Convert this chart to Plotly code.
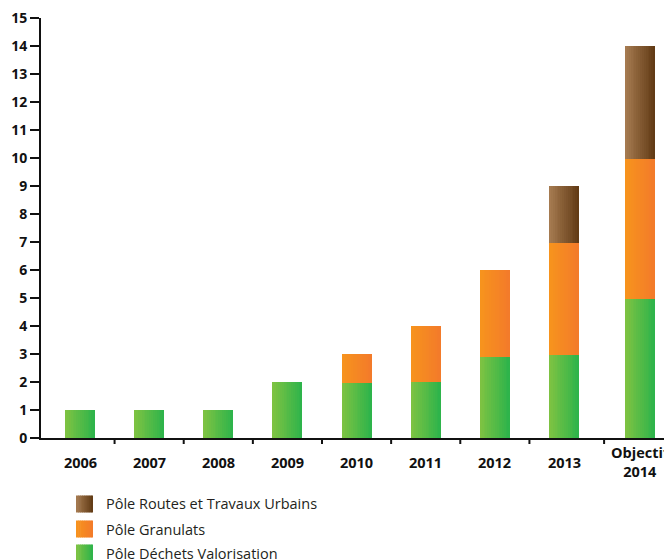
import plotly.graph_objects as go

# ---- data ----
categories = ["2006", "2007", "2008", "2009", "2010", "2011", "2012", "2013", "Objectif<br>2014"]
dechets = [1, 1, 1, 2, 1.95, 2, 2.9, 2.95, 4.95]
granulats = [0, 0, 0, 0, 1.05, 2, 3.1, 4, 5]
routes = [0, 0, 0, 0, 0, 0, 0, 2.05, 4.05]
series_names = ["Pôle Déchets Valorisation", "Pôle Granulats", "Pôle Routes et Travaux Urbains"]
y_ticks = list(range(0, 16))

# ---- styling ----
colors_left = ["#80c342", "#f7941d", "#a77c52"]
colors_right = ["#2bb34b", "#f37a2a", "#603913"]
BAR_W = 0.434
N_STRIPS = 16
FONT = "Open Sans"
# horizontal slot shift (in category units) – the last column sits a bit further right
slot_shift = [0, 0, 0, 0, 0, 0, 0, 0, 0.1]


def hex2rgb(h):
    h = h.lstrip("#")
    return tuple(int(h[i:i + 2], 16) for i in (0, 2, 4))


def mix(c1, c2, t):
    a, b = hex2rgb(c1), hex2rgb(c2)
    return "rgb(%d,%d,%d)" % tuple(round(a[i] + (b[i] - a[i]) * t) for i in range(3))


series_vals = [dechets, granulats, routes]
bases = []
acc = [0] * len(categories)
for vals in series_vals:
    bases.append(list(acc))
    acc = [a + v for a, v in zip(acc, vals)]

fig = go.Figure()
for s, vals in enumerate(series_vals):
    yv = [v if v > 0 else None for v in vals]
    for k in range(N_STRIPS):
        t = (k + 0.5) / N_STRIPS
        sw = BAR_W / N_STRIPS
        width = sw * (2 if k < N_STRIPS - 1 else 1)
        fig.add_trace(go.Bar(
            x=categories, y=yv, base=bases[s],
            width=[width] * len(categories),
            offset=[-BAR_W / 2 + k * sw + sh for sh in slot_shift],
            marker=dict(color=mix(colors_left[s], colors_right[s], t), line=dict(width=0)),
            showlegend=False, name=series_names[s], hoverinfo="skip",
        ))

# plot area geometry (pixels) for paper conversions
L, T, B = 41, 18, 122
W, H = 664, 560
PW, PH = W - L, H - T - B


def px2paper_x(px):
    return (px - L) / PW


def px2paper_y(py):
    return (H - B - py) / PH


annotations = []
for i, c in enumerate(categories):
    annotations.append(dict(
        x=i + slot_shift[i], xref="x", y=0, yref="y", yshift=-24, yanchor="middle", xanchor="center",
        text=c, showarrow=False, font=dict(family=FONT, size=14.5, color="#111", weight="bold"),
    ))

shapes = []
# boundary tick marks below the x axis
for i in range(len(categories) - 1):
    xb = (i + slot_shift[i] + i + 1 + slot_shift[i + 1]) / 2 + (0.03 if slot_shift[i + 1] else 0)
    shapes.append(dict(
        type="line", xref="x", yref="paper", x0=xb, x1=xb, y0=0, y1=-6 / PH,
        line=dict(color="#111", width=2), layer="above",
    ))

legend_rows = [(2, 504), (1, 529), (0, 553)]
sq_x0, sq = 76, 17
for s, cy in legend_rows:
    n = 8
    for k in range(n):
        t = (k + 0.5) / n
        x0 = sq_x0 + k * sq / n
        x1 = sq_x0 + (k + 1) * sq / n + (0.6 if k < n - 1 else 0)
        shapes.append(dict(
            type="rect", xref="paper", yref="paper",
            x0=px2paper_x(x0), x1=px2paper_x(x1),
            y0=px2paper_y(cy - sq / 2), y1=px2paper_y(cy + sq / 2),
            fillcolor=mix(colors_left[s], colors_right[s], t), line=dict(width=0), layer="above",
        ))
    annotations.append(dict(
        x=px2paper_x(104), xref="paper", y=px2paper_y(cy), yref="paper",
        xanchor="left", yanchor="middle", text=series_names[s], showarrow=False,
        font=dict(family=FONT, size=14.5, color="#231f20"),
    ))

px_per_cat = (564 - 80) / 7
x0_range = -(80 - L) / px_per_cat
x1_range = x0_range + PW / px_per_cat

fig.update_layout(
    template="none",
    width=W, height=H,
    margin=dict(l=L, r=0, t=T, b=B, pad=0),
    paper_bgcolor="white", plot_bgcolor="white",
    barmode="overlay", bargap=0,
    showlegend=False,
    annotations=annotations, shapes=shapes,
    xaxis=dict(
        type="category", range=[x0_range, x1_range],
        ticks="", showline=True, linewidth=2, linecolor="#111",
        showgrid=False, zeroline=False, showticklabels=False,
    ),
    yaxis=dict(
        range=[0, 15], tickmode="array", tickvals=y_ticks, ticktext=[str(v) for v in y_ticks],
        ticks="outside", ticklen=9, tickwidth=2, tickcolor="#111",
        showline=True, linewidth=2, linecolor="#111", showgrid=False, zeroline=False,
        tickfont=dict(family=FONT, size=14, color="#111", weight="bold"),
    ),
)

fig.write_html("out.html")
